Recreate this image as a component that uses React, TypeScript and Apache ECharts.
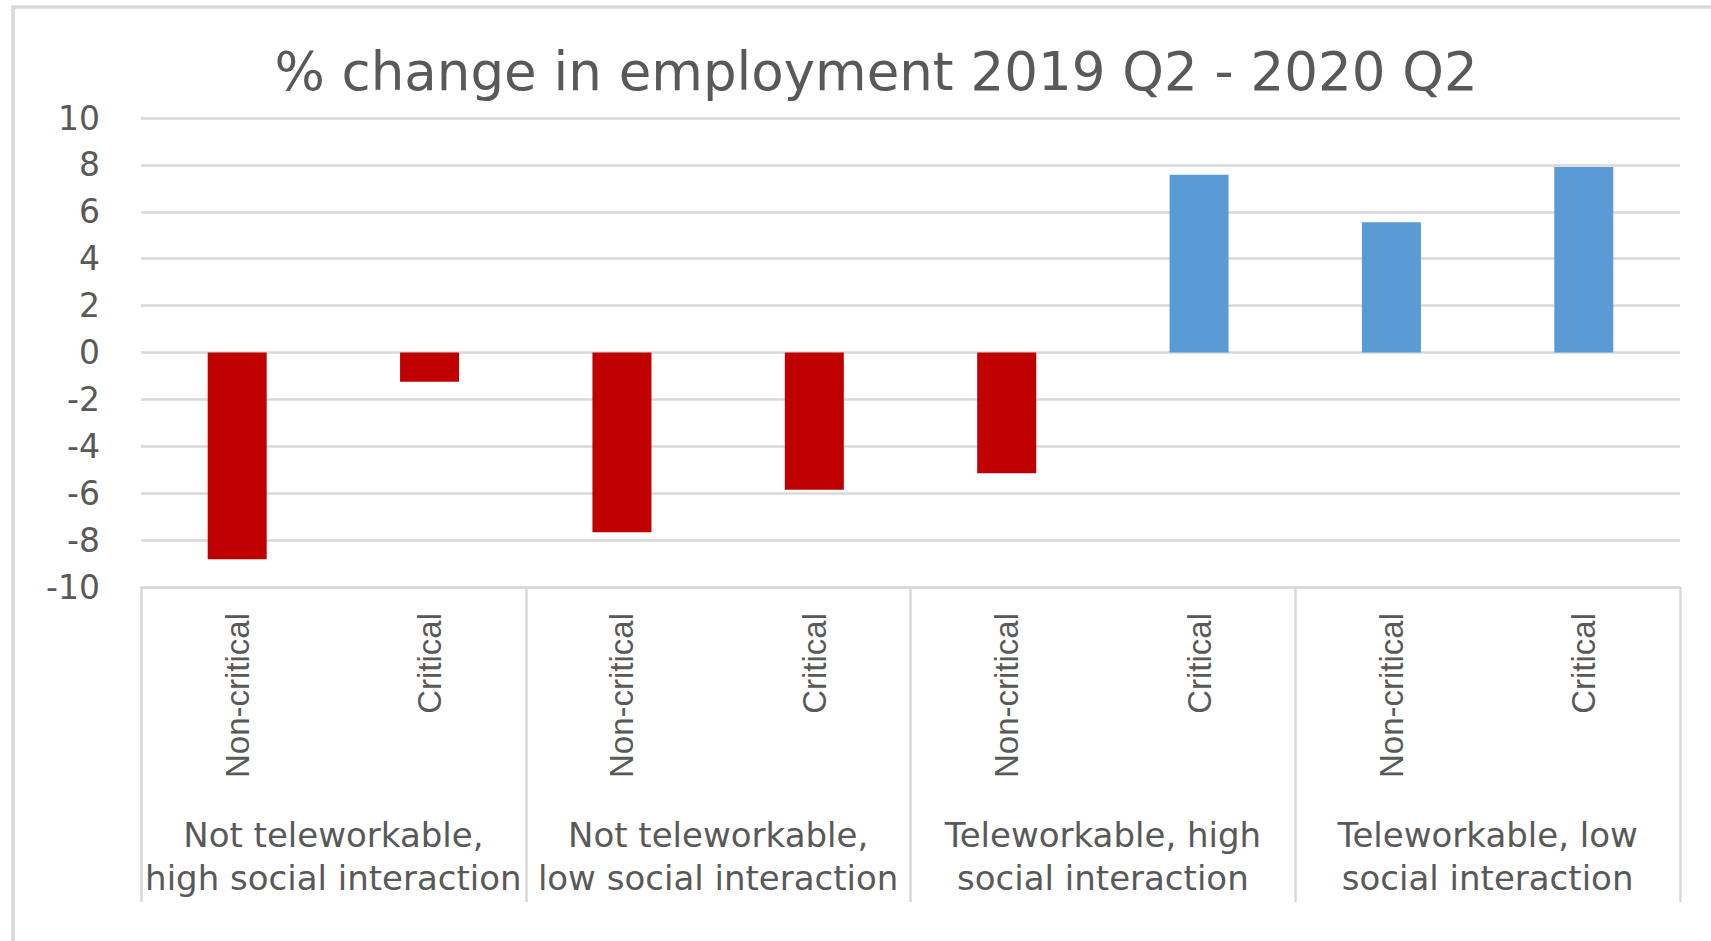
import React, { useEffect, useRef } from "react";
import * as echarts from "echarts";

const title = "% change in employment 2019 Q2 - 2020 Q2";
const groups = [
  "Not teleworkable,\nhigh social interaction",
  "Not teleworkable,\nlow social interaction",
  "Teleworkable, high\nsocial interaction",
  "Teleworkable, low\nsocial interaction",
];
const subCategories = [
  "Non-critical",
  "Critical",
  "Non-critical",
  "Critical",
  "Non-critical",
  "Critical",
  "Non-critical",
  "Critical",
];
const values = [-8.82, -1.25, -7.67, -5.85, -5.15, 7.58, 5.55, 7.91];
const yMin = -10;
const yMax = 10;
const yStep = 2;

const RED = "#C00000";
const BLUE = "#5B9BD5";
const GRID = "#d9d9d9";
const TEXT = "#595959";

export default function App() {
  const ref = useRef<HTMLDivElement>(null);
  useEffect(() => {
    if (!ref.current) return;
    const chart = echarts.init(ref.current, undefined, { renderer: "svg" });
    chart.setOption({
      animation: false,
      backgroundColor: "#ffffff",
      title: {
        text: title,
        left: 871,
        top: 40,
        textAlign: "center",
        textStyle: {
          fontFamily: "DejaVu Sans",
          fontSize: 53,
          fontWeight: "normal",
          color: TEXT,
        },
      },
      graphic: [
        {
          type: "rect",
          shape: { x: 13, y: 7, width: 1760, height: 1000 },
          style: { fill: "none", stroke: GRID, lineWidth: 3.5 },
          silent: true,
          z: -10,
        },
      ],
      grid: { left: 141, right: 31, top: 118, bottom: 354, containLabel: false },
      xAxis: [
        {
          type: "category",
          data: subCategories,
          position: "bottom",
          axisLine: { show: true, onZero: false, lineStyle: { color: GRID, width: 2.5 } },
          axisTick: { show: false },
          axisLabel: {
            interval: 0,
            rotate: 90,
            margin: 26,
            fontFamily: "Liberation Sans",
            fontSize: 33,
            color: TEXT,
          },
        },
        {
          type: "category",
          data: groups,
          position: "bottom",
          axisLine: { show: false, onZero: false },
          axisTick: {
            show: true,
            length: 315,
            lineStyle: { color: GRID, width: 2.5 },
          },
          axisLabel: {
            interval: 0,
            margin: 226,
            hideOverlap: false,
            fontFamily: "DejaVu Sans",
            fontSize: 34,
            lineHeight: 43,
            color: TEXT,
            align: "center",
          },
        },
      ],
      yAxis: {
        type: "value",
        min: yMin,
        max: yMax,
        interval: yStep,
        axisLine: { show: false },
        axisTick: { show: false },
        splitLine: { lineStyle: { color: GRID, width: 2.5 } },
        axisLabel: {
          margin: 41,
          fontFamily: "DejaVu Sans",
          fontSize: 33,
          color: TEXT,
        },
      },
      series: [
        {
          type: "bar",
          xAxisIndex: 0,
          data: values.map((v) => ({
            value: v,
            itemStyle: { color: v < 0 ? RED : BLUE },
          })),
          barWidth: 59,
          itemStyle: { borderWidth: 0 },
        },
      ],
    });
    return () => chart.dispose();
  }, []);
  return (
    <div
      ref={ref}
      style={{ position: "fixed", left: 0, top: 0, width: 1711, height: 941, background: "#fff" }}
    />
  );
}
